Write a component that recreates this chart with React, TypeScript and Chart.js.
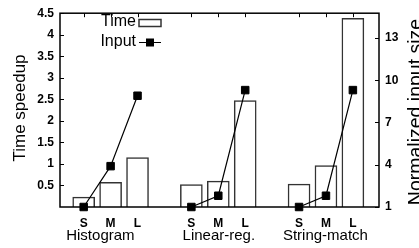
import React, { useEffect, useRef } from "react";
import { Chart, registerables } from "chart.js";

Chart.register(...registerables);

const groups = ["Histogram", "Linear-reg.", "String-match"];
const sizes = ["S", "M", "L"];
const timeSpeedup = [
  [0.23, 0.57, 1.15],
  [0.52, 0.6, 2.47],
  [0.53, 0.96, 4.38],
];
const inputSize = [
  [1, 3.9, 8.9],
  [1, 1.8, 9.3],
  [1, 1.8, 9.3],
];
const leftTicks = [0.5, 1, 1.5, 2, 2.5, 3, 3.5, 4, 4.5];
const rightTicks = [1, 4, 7, 10, 13];
const legendLabels = ["Time", "Input"];
const leftTitle = "Time speedup";
const rightTitle = "Normalized input size";

const SLOT = sizes.length + 1;
const positions: number[] = [];
groups.forEach((_, g) => sizes.forEach((_, s) => positions.push(g * SLOT + s)));
// where each group name sits along the x scale (slot units)
const groupLabelPos = [0.62, 5.02, 8.98];

const FONT = "'Liberation Sans', Arial, Helvetica, sans-serif";

const framePlugin = {
  id: "frame",
  afterDatasetsDraw(chart: any) {
    const { ctx, chartArea: a, scales } = chart;
    ctx.save();
    ctx.strokeStyle = "#000";
    ctx.lineWidth = 1.5;
    ctx.strokeRect(a.left, a.top, a.right - a.left, a.bottom - a.top);
    ctx.lineWidth = 1;
    ctx.beginPath();
    leftTicks.forEach((v) => {
      const y = Math.round(scales.y.getPixelForValue(v)) + 0.5;
      ctx.moveTo(a.left, y);
      ctx.lineTo(a.left + 4, y);
    });
    rightTicks.forEach((v) => {
      const y = Math.round(scales.y2.getPixelForValue(v)) + 0.5;
      ctx.moveTo(a.right, y);
      ctx.lineTo(a.right - 4, y);
    });
    positions.forEach((p) => {
      const x = Math.round(scales.x.getPixelForValue(p)) + 0.5;
      ctx.moveTo(x, a.top);
      ctx.lineTo(x, a.top + 4);
    });
    ctx.stroke();
    ctx.restore();
  },
  afterDraw(chart: any) {
    const { ctx, scales } = chart;
    ctx.save();
    ctx.fillStyle = "#000";
    // group names
    ctx.font = `15px ${FONT}`;
    ctx.textAlign = "center";
    ctx.textBaseline = "alphabetic";
    groups.forEach((g, i) => {
      ctx.fillText(g, scales.x.getPixelForValue(groupLabelPos[i]), 240);
    });
    // legend
    ctx.font = `16px ${FONT}`;
    ctx.textAlign = "right";
    ctx.textBaseline = "middle";
    ctx.fillText(legendLabels[0], 136, 22);
    ctx.fillText(legendLabels[1], 136, 42);
    ctx.strokeStyle = "#333";
    ctx.lineWidth = 1.5;
    ctx.strokeRect(139, 19.5, 22, 7);
    ctx.strokeStyle = "#000";
    ctx.lineWidth = 1;
    ctx.beginPath();
    ctx.moveTo(139, 42.5);
    ctx.lineTo(161, 42.5);
    ctx.stroke();
    ctx.fillRect(146, 38.5, 8, 8);
    // axis titles
    ctx.textAlign = "center";
    ctx.textBaseline = "alphabetic";
    ctx.font = `17px ${FONT}`;
    ctx.translate(25, 108);
    ctx.rotate(-Math.PI / 2);
    ctx.fillText(leftTitle, 0, 0);
    ctx.setTransform(1, 0, 0, 1, 0, 0);
    ctx.font = `19.5px ${FONT}`;
    ctx.translate(422, 112);
    ctx.rotate(-Math.PI / 2);
    ctx.fillText(rightTitle, 0, 0);
    ctx.restore();
  },
};

export default function App() {
  const ref = useRef<HTMLCanvasElement>(null);
  useEffect(() => {
    if (!ref.current) return;
    const barData: any[] = [];
    const lineData: any[] = [];
    groups.forEach((_, g) => {
      sizes.forEach((_, s) => {
        barData.push({ x: g * SLOT + s, y: timeSpeedup[g][s] });
        lineData.push({ x: g * SLOT + s, y: inputSize[g][s] });
      });
      if (g < groups.length - 1) lineData.push({ x: g * SLOT + sizes.length, y: null });
    });
    const tickFont = { family: FONT, size: 12, weight: "bold" };
    const chart = new Chart(ref.current, {
      type: "bar",
      data: {
        datasets: [
          {
            type: "line",
            label: legendLabels[1],
            data: lineData,
            xAxisID: "x",
            yAxisID: "y2",
            borderColor: "#000",
            borderWidth: 1.2,
            backgroundColor: "#000",
            pointStyle: "rect",
            pointRadius: 5.3,
            pointBorderWidth: 1,
            pointBorderColor: "#000",
            pointBackgroundColor: "#000",
            spanGaps: false,
            clip: false,
            order: 0,
          } as any,
          {
            type: "bar",
            label: legendLabels[0],
            data: barData,
            xAxisID: "x",
            yAxisID: "y",
            backgroundColor: "#fff",
            borderColor: "#333",
            borderWidth: 1.5,
            barThickness: 22,
            order: 1,
          } as any,
        ],
      },
      options: {
        animation: false,
        responsive: false,
        layout: { padding: { top: 12, left: 0, right: 0, bottom: 0 } },
        plugins: { legend: { display: false }, tooltip: { enabled: false } },
        scales: {
          x: {
            type: "linear",
            position: "bottom",
            min: -0.88,
            max: 10.97,
            offset: false,
            grid: { display: false, drawTicks: false },
            border: { display: false },
            afterBuildTicks: (s: any) => {
              s.ticks = positions.map((v) => ({ value: v }));
            },
            afterFit: (s: any) => {
              s.height = 41;
            },
            ticks: {
              autoSkip: false,
              maxRotation: 0,
              padding: 9,
              color: "#000",
              font: tickFont,
              callback: (v: any) => sizes[Number(v) % SLOT] ?? "",
            },
          },
          y: {
            type: "linear",
            position: "left",
            min: 0,
            max: 4.5,
            grid: { display: false, drawTicks: false },
            border: { display: false },
            afterBuildTicks: (s: any) => {
              s.ticks = leftTicks.map((v) => ({ value: v }));
            },
            afterFit: (s: any) => {
              s.width = 60;
            },
            ticks: { padding: 6, color: "#000", font: tickFont, callback: (v: any) => String(v) },
          },
          y2: {
            type: "linear",
            position: "right",
            min: 1,
            max: 14.76,
            grid: { display: false, drawTicks: false },
            border: { display: false },
            afterBuildTicks: (s: any) => {
              s.ticks = rightTicks.map((v) => ({ value: v }));
            },
            afterFit: (s: any) => {
              s.width = 40;
            },
            ticks: { padding: 6, color: "#000", font: tickFont, callback: (v: any) => String(v) },
          },
        },
      } as any,
      plugins: [framePlugin],
    });
    return () => chart.destroy();
  }, []);
  return (
    <div style={{ position: "absolute", left: 0, top: 0, width: 419, height: 248, background: "#fff" }}>
      <canvas ref={ref} width={419} height={248} />
    </div>
  );
}
